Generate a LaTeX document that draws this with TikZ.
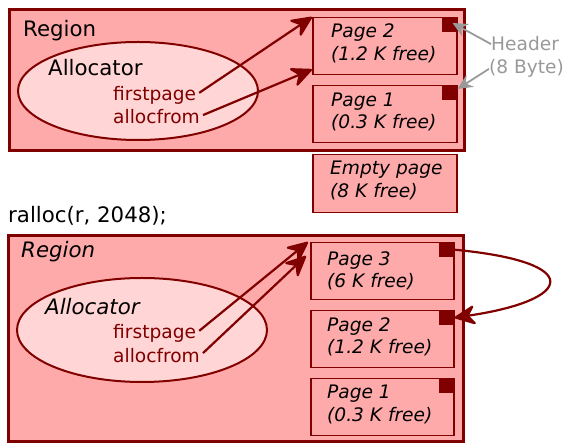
\documentclass[tikz,border=0pt]{standalone}
\usepackage{fontspec}
\setmainfont{DejaVu Sans}
\usetikzlibrary{arrows.meta,shapes.geometric}
\definecolor{darkred}{HTML}{800000}
\definecolor{lightred}{HTML}{FFAAAA}
\definecolor{palered}{HTML}{FFD5D5}
\definecolor{hdrgray}{HTML}{999999}

\tikzset{
  region/.style={draw=darkred,fill=lightred,line width=3.4pt,anchor=north west,inner sep=0pt,minimum width=455pt},
  alloc/.style={ellipse,draw=darkred,fill=palered,line width=2pt,inner sep=0pt},
  pagebox/.style={draw=darkred,fill=lightred,line width=1.5pt,anchor=north west,inner sep=0pt,minimum height=57pt},
  hdr/.style={fill=darkred,anchor=north east,inner sep=0pt,minimum size=15pt},
  lbl/.style={anchor=base west,inner sep=0pt,font=\fontsize{21.3}{25}\selectfont},
  sml/.style={anchor=base west,inner sep=0pt,font=\fontsize{18.6}{22}\selectfont},
  pgtxt/.style={sml,font=\fontsize{18.6}{22}\selectfont\itshape},
  ptrtxt/.style={sml,text=darkred},
  hdrtxt/.style={sml,text=hdrgray},
  ptr/.style={draw=darkred,line width=2.2pt,-{Stealth[length=24pt,width=22pt,inset=8pt,round]}},
  hdrptr/.style={draw=hdrgray,line width=1.8pt,-{Stealth[length=15pt,width=14pt,inset=5pt]}}
}

\begin{document}
\begin{tikzpicture}[x=1pt,y=-1pt]
  \useasboundingbox (0,0) rectangle (566,443);
  % before the call
  \node[region,minimum height=141pt] (reg1) at (8,8){};
  \node[lbl] (rg1) at (23,37){Region};
  \node[alloc,minimum width=240pt,minimum height=98pt] (al1) at (138,91){};
  \node[lbl] (at1) at (48,76){Allocator};
  \node[ptrtxt] (fp1) at (113,101){firstpage};
  \node[ptrtxt] (af1) at (113,124){allocfrom};

  \node[pagebox,minimum width=144pt] (pgb) at (312,17){};
  \node[hdr] (hdb) at (pgb.north east){};
  \node[pgtxt] at (331,38){Page 2};
  \node[pgtxt] at (331,61){(1.2 K free)};
  \node[pagebox,minimum width=144pt] (pga) at (312,85){};
  \node[hdr] (hda) at (pga.north east){};
  \node[pgtxt] at (331,107){Page 1};
  \node[pgtxt] at (331,129){(0.3 K free)};
  \node[pagebox,minimum width=144pt,minimum height=58pt] (pge) at (312,154){};
  \node[pgtxt] at (330,175){Empty page};
  \node[pgtxt] at (330,198){(8 K free)};

  \node[hdrtxt] (hd) at (491,51){Header};
  \node[hdrtxt] (hb) at (489,74){(8 Byte)};
  \draw[hdrptr] (hd.west) -- ([xshift=-5pt,yshift=-6pt]hdb.north east);
  \draw[hdrptr] (hb.west) -- ([yshift=-4pt]hda.north east);

  \draw[ptr] ([xshift=3pt,yshift=3pt]fp1.east) -- (pgb.north west);
  \draw[ptr] ([xshift=3pt,yshift=2pt]af1.east) -- ([yshift=6pt]pgb.south west);

  \node[lbl] (call) at (8,223){ralloc(r, 2048);};

  % after the call
  \node[region,minimum height=206pt] (reg2) at (7,234){};
  \node[lbl,font=\fontsize{21.3}{25}\selectfont\itshape] (rg2) at (21,258){Region};
  \node[alloc,minimum width=250pt,minimum height=104pt] (al2) at (142,330){};
  \node[lbl,font=\fontsize{21.3}{25}\selectfont\itshape] (at2) at (45,315){Allocator};
  \node[ptrtxt] (fp2) at (113,339){firstpage};
  \node[ptrtxt] (af2) at (113,363){allocfrom};

  \node[pagebox,minimum width=143pt] (pc) at (310,242){};
  \node[hdr] (hc) at (pc.north east){};
  \node[pgtxt] at (327,266){Page 3};
  \node[pgtxt] at (327,288){(6 K free)};
  \node[pagebox,minimum width=143pt] (pb) at (310,310){};
  \node[hdr] (hbb) at (pb.north east){};
  \node[pgtxt] at (327,332){Page 2};
  \node[pgtxt] at (327,354){(1.2 K free)};
  \node[pagebox,minimum width=143pt] (pa) at (310,378){};
  \node[hdr] (hab) at (pa.north east){};
  \node[pgtxt] at (327,399){Page 1};
  \node[pgtxt] at (327,422){(0.3 K free)};

  \draw[ptr] ([xshift=3pt,yshift=3pt]fp2.east) -- ([xshift=-2pt]pc.north west);
  \draw[ptr] ([xshift=3pt,yshift=3pt]af2.east) -- ([xshift=-4pt,yshift=-14pt]pc.north west);
  \draw[ptr] (hc.east) .. controls (585,262) and (575,300) .. (hbb.east);
\end{tikzpicture}
\end{document}
